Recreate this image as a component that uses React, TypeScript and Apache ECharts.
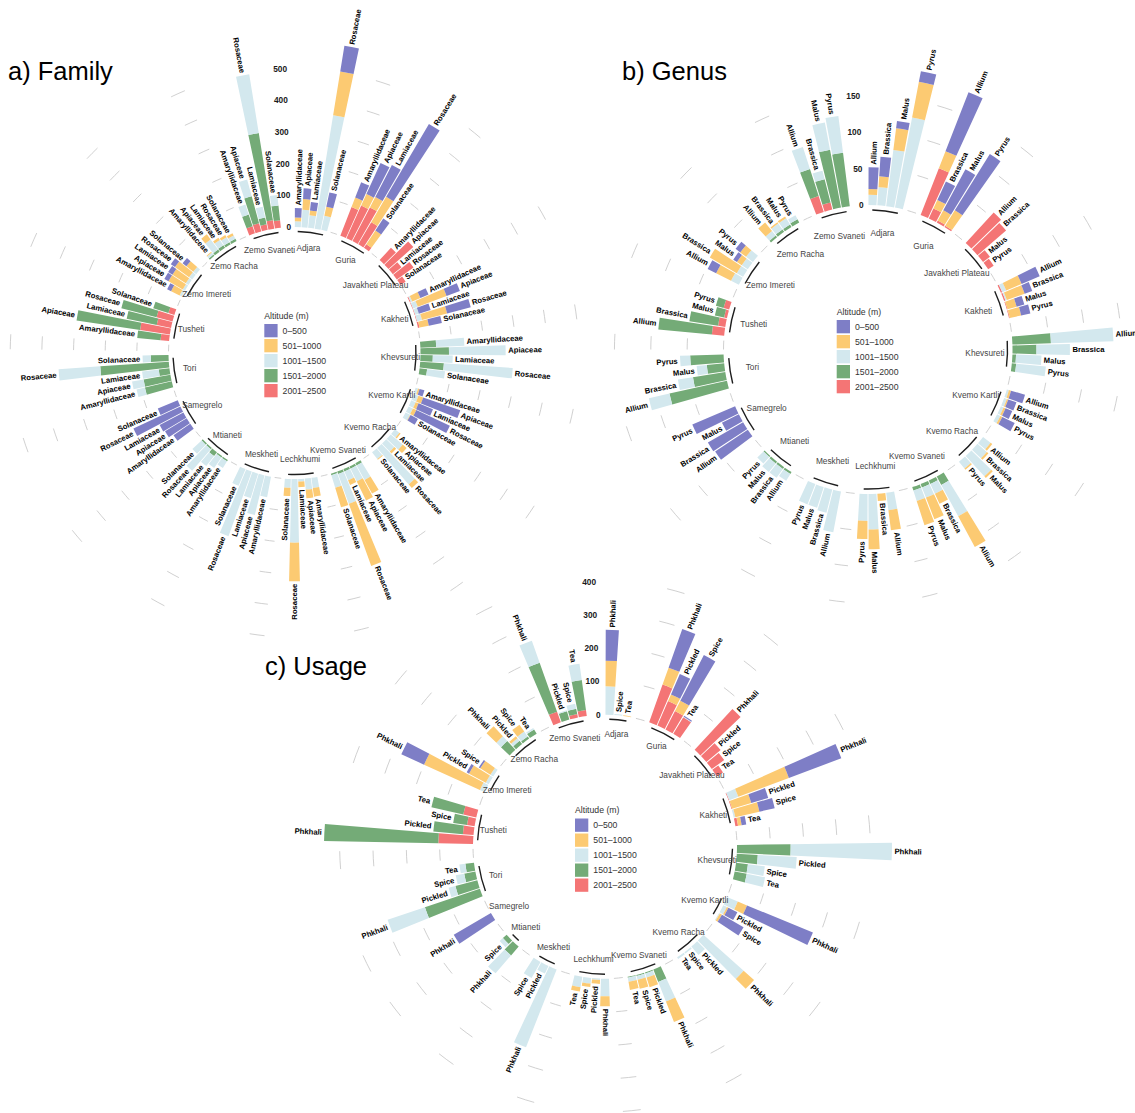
import React, { useEffect, useRef } from 'react';
import * as echarts from 'echarts';

const FONT = '"Liberation Sans", Arial, Helvetica, sans-serif';

const regions = [
  'Adjara', 'Guria', 'Javakheti Plateau', 'Kakheti', 'Khevsureti', 'Kvemo Kartli',
  'Kvemo Racha', 'Kvemo Svaneti', 'Lechkhumi', 'Meskheti', 'Mtianeti', 'Samegrelo',
  'Tori', 'Tusheti', 'Zemo Imereti', 'Zemo Racha', 'Zemo Svaneti',
];

const altitudeClasses = ['0–500', '501–1000', '1001–1500', '1501–2000', '2001–2500'];
const altitudeColors = ['#7e7ec6', '#fcca72', '#d3e8ee', '#74ab77', '#f47575'];

// ---------- a) Family: one line per region, values in family order ----------
const families = ['Amaryllidaceae', 'Apiaceae', 'Lamiaceae', 'Rosaceae', 'Solanaceae'];
const family0to500 = [
  30, 34, 27, 82, 46, // Adjara
  52, 108, 114, 267, 45, // Guria
  0, 0, 0, 0, 0, // Javakheti Plateau
  28, 45, 39, 77, 42, // Kakheti
  0, 0, 0, 0, 0, // Khevsureti
  16, 124, 49, 117, 26, // Kvemo Kartli
  0, 0, 0, 0, 0, // Kvemo Racha
  0, 0, 0, 0, 0, // Kvemo Svaneti
  0, 0, 0, 0, 0, // Lechkhumi
  0, 0, 0, 0, 0, // Meskheti
  0, 0, 0, 0, 0, // Mtianeti
  64, 80, 85, 164, 68, // Samegrelo
  0, 0, 0, 0, 0, // Tori
  0, 0, 0, 0, 0, // Tusheti
  14, 15, 16, 16, 15, // Zemo Imereti
  0, 0, 0, 0, 0, // Zemo Racha
  0, 0, 0, 0, 0, // Zemo Svaneti
];
const family501to1000 = [
  12, 34, 15, 140, 29,
  32, 40, 37, 93, 52,
  0, 0, 0, 0, 0,
  28, 97, 0, 82, 30,
  0, 0, 0, 0, 0,
  5, 16, 10, 12, 2,
  5, 16, 8, 15, 3,
  49, 67, 16, 209, 64,
  28, 27, 18, 122, 26,
  0, 0, 0, 0, 0,
  0, 0, 0, 0, 0,
  0, 0, 0, 0, 0,
  0, 0, 0, 0, 0,
  0, 0, 0, 0, 0,
  30, 52, 50, 55, 28,
  3, 20, 8, 8, 8,
  0, 0, 0, 0, 0,
];
const family1001to1500 = [
  18, 55, 40, 363, 46,
  0, 0, 0, 0, 0,
  0, 0, 0, 0, 0,
  5, 16, 12, 16, 0,
  89, 179, 63, 218, 57,
  8, 16, 15, 15, 16,
  18, 50, 35, 152, 27,
  52, 45, 30, 100, 42,
  32, 35, 8, 201, 28,
  66, 129, 80, 217, 57,
  25, 40, 40, 90, 40,
  0, 0, 0, 0, 0,
  27, 37, 53, 132, 26,
  0, 0, 0, 0, 0,
  8, 8, 10, 12, 12,
  8, 40, 20, 18, 12,
  33, 55, 35, 188, 33,
];
const family1501to2000 = [
  0, 0, 0, 0, 0,
  0, 0, 0, 0, 0,
  0, 0, 0, 0, 0,
  0, 0, 0, 0, 0,
  50, 90, 39, 75, 24,
  0, 0, 0, 0, 0,
  0, 0, 0, 0, 0,
  8, 8, 8, 8, 5,
  0, 0, 0, 0, 0,
  0, 0, 0, 0, 0,
  5, 5, 15, 5, 5,
  0, 0, 0, 0, 0,
  87, 86, 34, 217, 56,
  74, 203, 97, 115, 50,
  0, 0, 0, 0, 0,
  5, 8, 10, 8, 8,
  39, 88, 22, 279, 47,
];
const family2001to2500 = [
  0, 0, 0, 0, 0,
  97, 113, 120, 81, 14,
  53, 105, 35, 65, 19,
  3, 2, 2, 2, 5,
  0, 0, 0, 0, 0,
  0, 0, 0, 0, 0,
  0, 0, 0, 0, 0,
  0, 0, 0, 0, 0,
  0, 0, 0, 0, 0,
  0, 0, 0, 0, 0,
  0, 0, 0, 0, 0,
  0, 0, 0, 0, 0,
  0, 0, 0, 0, 0,
  27, 95, 46, 52, 20,
  0, 0, 0, 0, 0,
  0, 0, 0, 0, 0,
  24, 27, 18, 27, 24,
];
const familyTicks = [0, 100, 200, 300, 400, 500];

// ---------- b) Genus ----------
const genera = ['Allium', 'Brassica', 'Malus', 'Pyrus'];
const genus0to500 = [
  30, 27, 10, 15, // Adjara
  87, 28, 64, 91, // Guria
  0, 0, 0, 0, // Javakheti Plateau
  27, 11, 11, 13, // Kakheti
  0, 0, 0, 0, // Khevsureti
  20, 12, 10, 19, // Kvemo Kartli
  0, 0, 0, 0, // Kvemo Racha
  0, 0, 0, 0, // Kvemo Svaneti
  0, 0, 0, 0, // Lechkhumi
  0, 0, 0, 0, // Meskheti
  0, 0, 0, 0, // Mtianeti
  54, 56, 26, 64, // Samegrelo
  0, 0, 0, 0, // Tori
  0, 0, 0, 0, // Tusheti
  13, 0, 6, 8, // Zemo Imereti
  0, 0, 0, 0, // Zemo Racha
  0, 0, 0, 0, // Zemo Svaneti
];
const genus501to1000 = [
  8, 15, 30, 50,
  25, 13, 16, 25,
  0, 0, 0, 0,
  23, 26, 13, 16,
  0, 0, 0, 0,
  3, 2, 3, 3,
  3, 3, 3, 2,
  48, 15, 32, 35,
  28, 10, 27, 25,
  0, 0, 0, 0,
  0, 0, 0, 0,
  0, 0, 0, 0,
  0, 0, 0, 0,
  0, 0, 0, 0,
  23, 43, 8, 10,
  15, 2, 3, 0,
  0, 0, 0, 0,
];
const genus1001to1500 = [
  14, 25, 78, 126,
  0, 0, 0, 0,
  0, 0, 0, 0,
  6, 2, 0, 0,
  86, 46, 35, 41,
  3, 4, 4, 5,
  13, 17, 38, 12,
  49, 15, 15, 15,
  24, 0, 49, 37,
  57, 33, 30, 30,
  11, 15, 15, 12,
  0, 0, 0, 0,
  29, 21, 14, 14,
  0, 0, 0, 0,
  12, 10, 10, 12,
  8, 10, 10, 6,
  32, 12, 38, 51,
];
const genus1501to2000 = [
  0, 0, 0, 0,
  0, 0, 0, 0,
  0, 0, 0, 0,
  0, 0, 0, 0,
  53, 33, 5, 6,
  0, 0, 0, 0,
  0, 0, 0, 0,
  13, 5, 5, 5,
  0, 0, 0, 0,
  0, 0, 0, 0,
  3, 3, 3, 2,
  0, 0, 0, 0,
  81, 45, 24, 46,
  74, 40, 13, 11,
  0, 0, 0, 0,
  3, 4, 4, 5,
  39, 33, 81, 74,
];
const genus2001to2500 = [
  0, 0, 0, 0,
  69, 15, 3, 2,
  57, 52, 12, 9,
  2, 2, 1, 1,
  0, 0, 0, 0,
  0, 0, 0, 0,
  0, 0, 0, 0,
  0, 0, 0, 0,
  0, 0, 0, 0,
  0, 0, 0, 0,
  0, 0, 0, 0,
  0, 0, 0, 0,
  0, 0, 0, 0,
  17, 10, 4, 8,
  0, 0, 0, 0,
  0, 0, 0, 0,
  23, 10, 0, 0,
];
const genusTicks = [0, 50, 100, 150];

// ---------- c) Usage (null: usage not recorded in that region) ----------
const usages = ['Phkhali', 'Pickled', 'Spice', 'Tea'];
const usage0to500 = [
  93, null, 0, 0, // Adjara
  123, 67, 154, 3, // Guria
  0, 0, 0, 0, // Javakheti Plateau
  168, 53, 47, 14, // Kakheti
  0, 0, 0, 0, // Khevsureti
  214, 30, 75, null, // Kvemo Kartli
  0, 0, 0, 0, // Kvemo Racha
  0, 0, 0, 0, // Kvemo Svaneti
  0, 0, 0, 0, // Lechkhumi
  0, 0, 0, null, // Meskheti
  0, null, 0, null, // Mtianeti
  129, null, null, null, // Samegrelo
  0, 0, 0, 0, // Tori
  0, 0, 0, 0, // Tusheti
  75, 8, 5, null, // Zemo Imereti
  0, 0, 0, 0, // Zemo Racha
  0, 0, 0, 0, // Zemo Svaneti
];
const usage501to1000 = [
  77, null, 0, 2,
  54, 22, 35, 0,
  0, 0, 0, 0,
  162, 60, 74, 11,
  0, 0, 0, 0,
  30, 5, 7, null,
  42, 0, 0, 0,
  66, 30, 28, 25,
  30, 12, 10, 13,
  0, 0, 0, null,
  0, null, 0, null,
  0, null, null, null,
  0, 0, 0, 0,
  0, 0, 0, 0,
  184, 57, 36, null,
  41, 8, 25, 0,
  0, 0, 0, 0,
];
const usage1001to1500 = [
  85, null, 3, 0,
  0, 0, 0, 2,
  0, 0, 0, 0,
  29, 0, 5, 0,
  304, 117, 51, 56,
  35, 12, 3, null,
  162, 33, 5, 6,
  63, 13, 12, 12,
  53, 4, 17, 32,
  251, 25, 55, null,
  71, null, 13, null,
  0, null, null, null,
  118, 21, 26, 18,
  0, 0, 0, 0,
  16, 10, 10, null,
  19, 10, 18, 5,
  70, 3, 15, 49,
];
const usage1501to2000 = [
  0, null, 0, 0,
  0, 0, 0, 0,
  0, 0, 0, 0,
  0, 0, 0, 0,
  161, 63, 36, 37,
  0, 0, 0, null,
  0, 0, 0, 0,
  40, 3, 3, 3,
  0, 0, 0, 0,
  0, 0, 0, null,
  35, null, 15, null,
  0, null, null, null,
  174, 68, 34, 26,
  343, 89, 42, 98,
  0, 0, 0, null,
  36, 12, 8, 15,
  156, 26, 16, 91,
];
const usage2001to2500 = [
  0, null, 0, 0,
  120, 80, 62, 58,
  167, 56, 46, 22,
  2, 2, 0, 8,
  0, 0, 0, 0,
  0, 0, 0, null,
  0, 0, 0, 0,
  0, 0, 0, 0,
  0, 0, 0, 0,
  0, 0, 0, null,
  0, null, 0, null,
  0, null, null, null,
  0, 0, 0, 0,
  104, 32, 23, 40,
  0, 0, 0, null,
  0, 0, 0, 0,
  34, 0, 11, 18,
];
const usageTicks = [0, 100, 200, 300, 400];

type Layout = {
  center: [number, number];
  inner: number;
  pxPerUnit: number;
  maxValue: number;
  labelRadius: number;
  arcInset: number;
  titlePos: [number, number];
  legendPos: [number, number];
};

const panels = [
  {
    title: 'a) Family',
    categories: families,
    classes: [family0to500, family501to1000, family1001to1500, family1501to2000, family2001to2500],
    ticks: familyTicks,
    layout: {
      center: [294.5, 353], inner: 126, pxPerUnit: 0.3166, maxValue: 600,
      labelRadius: 106, arcInset: 4.5, titlePos: [8, 71], legendPos: [264.3, 324],
    } as Layout,
  },
  {
    title: 'b) Genus',
    categories: genera,
    classes: [genus0to500, genus501to1000, genus1001to1500, genus1501to2000, genus2001to2500],
    ticks: genusTicks,
    layout: {
      center: [868, 349.5], inner: 144.5, pxPerUnit: 0.727, maxValue: 200,
      labelRadius: 117, arcInset: 5, titlePos: [622, 71], legendPos: [836.7, 320],
    } as Layout,
  },
  {
    title: 'c) Usage',
    categories: usages,
    classes: [usage0to500, usage501to1000, usage1001to1500, usage1501to2000, usage2001to2500],
    ticks: usageTicks,
    layout: {
      center: [605, 846.7], inner: 132, pxPerUnit: 0.3333, maxValue: 480,
      labelRadius: 113, arcInset: 4.5, titlePos: [265, 666], legendPos: [575, 818.5],
    } as Layout,
  },
];

type Bar = { slot: number; region: string; category: string; values: number[] };
type Group = { region: string; first: number; last: number; gapA: number; gapB: number };

// Lay the bars out around the circle: every region's bars followed by two empty slots.
function layoutSlots(categories: string[], classes: (number | null)[][]) {
  const keys: string[] = [];
  const bars: Bar[] = [];
  const groups: Group[] = [];
  regions.forEach((region, ri) => {
    const first = keys.length;
    categories.forEach((category, ci) => {
      const idx = ri * categories.length + ci;
      const vals = classes.map((arr) => arr[idx]);
      if (vals.every((v) => v === null || v === undefined)) return;
      bars.push({ slot: keys.length, region, category, values: vals.map((v) => (v == null ? 0 : v)) });
      keys.push(`${region} · ${category}`);
    });
    const last = keys.length - 1;
    const gapA = keys.length;
    keys.push(`${region} · gap 1`);
    const gapB = keys.length;
    keys.push(`${region} · gap 2`);
    groups.push({ region, first, last, gapA, gapB });
  });
  return { keys, bars, groups };
}

function arcAngles(cs: any, p1: number[], p2: number[]) {
  const a1 = Math.atan2(p1[1] - cs.cy, p1[0] - cs.cx);
  let a2 = Math.atan2(p2[1] - cs.cy, p2[0] - cs.cx);
  if (a2 < a1) a2 += Math.PI * 2;
  return [a1, a2];
}

function buildOption() {
  const polar: any[] = [];
  const angleAxis: any[] = [];
  const radiusAxis: any[] = [];
  const series: any[] = [];
  const legend: any[] = [];
  const graphics: any[] = [];

  panels.forEach((panel, pi) => {
    const L = panel.layout;
    const { keys, bars, groups } = layoutSlots(panel.categories, panel.classes);
    const lastSlot = keys.length - 1;

    polar.push({ center: L.center, radius: [L.inner, L.inner + L.maxValue * L.pxPerUnit] });
    angleAxis.push({
      polarIndex: pi,
      type: 'category',
      data: keys,
      startAngle: 90,
      clockwise: true,
      boundaryGap: true,
      axisLine: { show: false },
      axisTick: { show: false },
      axisLabel: { show: false },
      splitLine: { show: false },
      splitArea: { show: false },
    });
    radiusAxis.push({
      polarIndex: pi,
      type: 'value',
      min: 0,
      max: L.maxValue,
      axisLine: { show: false },
      axisTick: { show: false },
      axisLabel: { show: false },
      splitLine: { show: false },
    });

    // faint scale segments in the gaps between regions
    const gridItems: { v: number; a: number; b: number }[] = [];
    groups.slice(0, -1).forEach((g) => {
      panel.ticks.forEach((v) => gridItems.push({ v, a: g.gapA, b: g.gapB }));
    });
    series.push({
      type: 'custom',
      coordinateSystem: 'polar',
      polarIndex: pi,
      silent: true,
      clip: false,
      z: 1,
      encode: { radius: 0, angle: 1 },
      data: gridItems.map((it) => [it.v, it.a]),
      renderItem: (params: any, api: any) => {
        const it = gridItems[params.dataIndex];
        const cs = params.coordSys;
        const p1 = api.coord([it.v, it.a]);
        const p2 = api.coord([it.v, it.b]);
        const [a1, a2] = arcAngles(cs, p1, p2);
        const r = Math.hypot(p1[0] - cs.cx, p1[1] - cs.cy);
        return {
          type: 'arc',
          shape: { cx: cs.cx, cy: cs.cy, r, startAngle: a1, endAngle: a2, clockwise: true },
          style: { stroke: '#c4c4c4', lineWidth: 0.8, fill: 'none' },
        };
      },
    });

    // stacked altitude bars, highest altitude at the base
    for (let k = 4; k >= 0; k--) {
      const data: any[] = keys.map(() => '-');
      bars.forEach((b) => {
        data[b.slot] = b.values[k];
      });
      series.push({
        type: 'bar',
        name: altitudeClasses[k],
        coordinateSystem: 'polar',
        polarIndex: pi,
        stack: `altitude-${pi}`,
        data,
        barCategoryGap: '10%',
        itemStyle: { color: altitudeColors[k] },
        silent: true,
        z: 2,
      });
    }

    // category names at the end of each bar, turned along the radius
    series.push({
      type: 'custom',
      coordinateSystem: 'polar',
      polarIndex: pi,
      silent: true,
      clip: false,
      z: 4,
      encode: { radius: 0, angle: 1 },
      data: bars.map((b) => [b.values.reduce((s, v) => s + v, 0), b.slot]),
      renderItem: (params: any, api: any) => {
        const b = bars[params.dataIndex];
        const total = b.values.reduce((s, v) => s + v, 0);
        const cs = params.coordSys;
        const p = api.coord([total, b.slot]);
        const dx = p[0] - cs.cx;
        const dy = p[1] - cs.cy;
        const r = Math.hypot(dx, dy);
        const ux = dx / r;
        const uy = dy / r;
        let theta = Math.atan2(dx, -dy);
        if (theta < 0) theta += Math.PI * 2;
        const rightSide = theta <= Math.PI;
        const pad = 2.5;
        return {
          type: 'text',
          x: p[0] + ux * pad,
          y: p[1] + uy * pad,
          rotation: rightSide ? Math.PI / 2 - theta : (3 * Math.PI) / 2 - theta,
          style: {
            text: b.category,
            align: rightSide ? 'left' : 'right',
            verticalAlign: 'middle',
            fontFamily: FONT,
            fontWeight: 'bold',
            fontSize: 7.7,
            fill: '#000000',
          },
        };
      },
    });

    // region arcs and names
    series.push({
      type: 'custom',
      coordinateSystem: 'polar',
      polarIndex: pi,
      silent: true,
      clip: false,
      z: 3,
      encode: { radius: 0, angle: 1 },
      data: groups.map((g) => [0, g.first]),
      renderItem: (params: any, api: any) => {
        const g = groups[params.dataIndex];
        const cs = params.coordSys;
        const p1 = api.coord([0, g.first]);
        const p2 = api.coord([0, g.last]);
        const [a1, a2] = arcAngles(cs, p1, p2);
        const mid = (a1 + a2) / 2;
        const children: any[] = [];
        if (g.last > g.first) {
          children.push({
            type: 'arc',
            shape: { cx: cs.cx, cy: cs.cy, r: cs.r0 - L.arcInset, startAngle: a1, endAngle: a2, clockwise: true },
            style: { stroke: '#1e1e1e', lineWidth: 1.4, fill: 'none' },
          });
        }
        children.push({
          type: 'text',
          x: cs.cx + L.labelRadius * Math.cos(mid),
          y: cs.cy + L.labelRadius * Math.sin(mid),
          style: {
            text: g.region,
            align: 'center',
            verticalAlign: 'middle',
            fontFamily: FONT,
            fontSize: 8.3,
            fill: '#454545',
          },
        });
        return { type: 'group', children };
      },
    });

    // radial scale labels in the opening at the top
    series.push({
      type: 'custom',
      coordinateSystem: 'polar',
      polarIndex: pi,
      silent: true,
      clip: false,
      z: 4,
      encode: { radius: 0, angle: 1 },
      data: panel.ticks.map((t) => [t, lastSlot]),
      renderItem: (params: any, api: any) => {
        const t = panel.ticks[params.dataIndex];
        const p = api.coord([t, lastSlot]);
        return {
          type: 'text',
          x: p[0],
          y: p[1],
          style: {
            text: String(t),
            align: 'right',
            verticalAlign: 'middle',
            fontFamily: FONT,
            fontWeight: 'bold',
            fontSize: 8.3,
            fill: '#1a1a1a',
          },
        };
      },
    });

    legend.push({
      orient: 'vertical',
      left: L.legendPos[0],
      top: L.legendPos[1],
      padding: 0,
      itemWidth: 13.3,
      itemHeight: 13.3,
      itemGap: 1.7,
      icon: 'rect',
      selectedMode: false,
      data: altitudeClasses,
      textStyle: { fontFamily: FONT, fontSize: 8.7, color: '#333333' },
    });

    graphics.push({
      type: 'text',
      x: L.legendPos[0],
      y: L.legendPos[1] - 8.5,
      style: {
        text: 'Altitude (m)',
        fontFamily: FONT,
        fontSize: 8.7,
        fill: '#333333',
        verticalAlign: 'middle',
      },
    });
    graphics.push({
      type: 'text',
      x: L.titlePos[0],
      y: L.titlePos[1],
      style: {
        text: panel.title,
        fontFamily: FONT,
        fontSize: 25.5,
        fill: '#000000',
        verticalAlign: 'middle',
      },
    });
  });

  return {
    animation: false,
    backgroundColor: '#ffffff',
    polar,
    angleAxis,
    radiusAxis,
    legend,
    graphic: { elements: graphics },
    series,
  };
}

export default function App() {
  const ref = useRef<HTMLDivElement>(null);
  useEffect(() => {
    if (!ref.current) return;
    const chart = echarts.init(ref.current, undefined, { renderer: 'svg' });
    chart.setOption(buildOption() as any);
    return () => chart.dispose();
  }, []);
  return (
    <div
      ref={ref}
      style={{ position: 'absolute', left: 0, top: 0, width: 1135, height: 1113, background: '#fff' }}
    />
  );
}
